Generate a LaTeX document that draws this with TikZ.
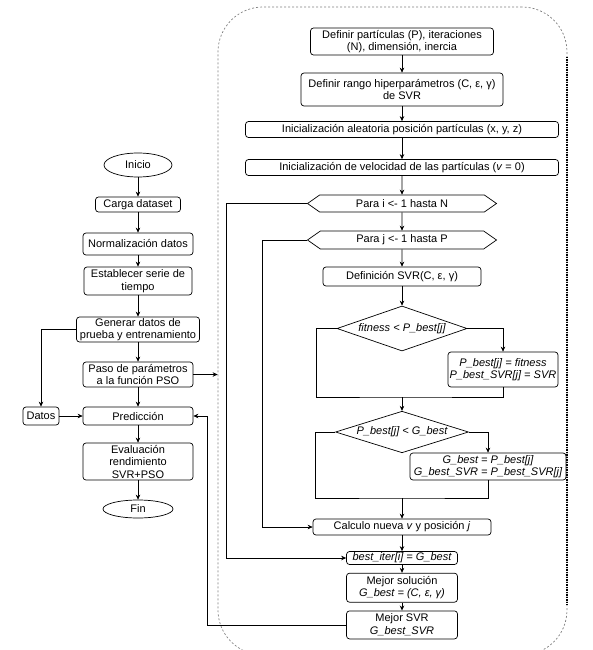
\documentclass[tikz,border=0pt]{standalone}
\usepackage{fontspec}
\setmainfont{Liberation Sans}
\usetikzlibrary{shapes.geometric, shapes.symbols, arrows.meta, positioning}

\begin{document}
\begin{tikzpicture}[x=1pt, y=1pt, line width=0.7pt, node distance=8pt,
     box/.style={rectangle, rounded corners=3pt, draw, align=center, inner sep=1pt, font=\fontsize{11}{12.5}\selectfont},
     itbox/.style={box, font=\fontsize{11}{12.5}\selectfont\itshape},
     term/.style={ellipse, draw, inner sep=1pt, font=\fontsize{11}{12.5}\selectfont},
     loop/.style={signal, signal to=east and west, signal pointer angle=70, draw, inner sep=1pt, font=\fontsize{11}{12.5}\selectfont},
     cond/.style={diamond, draw, aspect=2.9, inner sep=0pt, font=\fontsize{11}{12.5}\selectfont\itshape},
     arrow/.style={->, >={Stealth[length=5pt, width=4.5pt]}}]
     \useasboundingbox (0,0) rectangle (593,-650);
     % flujo principal
     \node (inicio) [term, minimum width=68pt, minimum height=24pt] at (138,-165) {Inicio};
     \node (carga) [box, minimum width=85pt, minimum height=15pt] at (138,-204.5) {Carga dataset};
     \node (norm) [box, minimum width=110pt, minimum height=22pt] at (138,-244) {Normalización datos};
     \node (serie) [box, minimum width=108pt, minimum height=28pt] at (138,-281) {Establecer serie de\\tiempo};
     \node (gen) [box, minimum width=123pt, minimum height=25pt] at (138,-329.5) {Generar datos de\\prueba y entrenamiento};
     \node (paso) [box, minimum width=110pt, minimum height=25pt] at (138,-374.5) {Paso de parámetros\\a la función PSO};
     \node (datos) [box, minimum width=36pt, minimum height=18pt] at (41,-416) {Datos};\node (pred) [box, minimum width=110pt, minimum height=18pt] at (138,-416) {Predicción};
     \node (eval) [box, minimum width=110pt, minimum height=37pt] at (138,-461.5) {Evaluación\\rendimiento\\SVR+PSO};
     \node (fin) [term, minimum width=70pt, minimum height=18pt] at (138,-509) {Fin};
     % bloque PSO
     \node (pso) [draw, gray, dash pattern=on 2pt off 2pt, rounded corners=45pt, minimum width=349pt, minimum height=648pt] at (392.5,-331) {};
     \draw [black, line width=2pt, dash pattern=on 1.5pt off 1pt] ([yshift=-50pt]pso.north east) -- ([yshift=50pt]pso.south east);
     \node (part) [box, minimum width=183pt, minimum height=27pt] at (402,-41.5) {Definir partículas (P), iteraciones\\(N), dimensión, inercia};
     \node (rango) [box, minimum width=202pt, minimum height=33pt] at (402,-89.5) {Definir rango hiperparámetros (C, ε, γ)\\de SVR};
     \node (posic) [box, minimum width=313pt, minimum height=16pt] at (402,-129.5) {Inicialización aleatoria posición partículas (x, y, z)};
     \node (veloc) [box, minimum width=313pt, minimum height=16pt] at (402,-167.5) {Inicialización de velocidad de las partículas (\textit{v} = 0)};
     \node (parai) [loop, minimum width=189pt, minimum height=17pt] at (402,-203.5) {Para i <- 1 hasta N};
     \node (paraj) [loop, minimum width=189pt, minimum height=18pt] at (402,-240) {Para j <- 1 hasta P};
     \node (svr) [box, minimum width=158pt, minimum height=19pt] at (402,-276.5) {Definición SVR(C, ε, γ)};
     \node (fit) [cond, minimum width=130pt, minimum height=45pt] at (402,-328.5) {fitness < P\_best[j]};
     \node (pbest) [itbox, minimum width=110pt, minimum height=35pt] at (503,-369.5) {P\_best[j] = fitness\\P\_best\_SVR[j] = SVR};
     \node (gcond) [cond, minimum width=133pt, minimum height=40pt] at (402,-432) {P\_best[j] < G\_best};
     \node (gbest) [itbox, minimum width=156pt, minimum height=27pt] at (488,-466.5) {G\_best = P\_best[j]\\G\_best\_SVR = P\_best\_SVR[j]};
     \node (calc) [box, minimum width=178pt, minimum height=16pt] at (402,-527) {Calculo nueva \textit{v} y posición \textit{j}};
     \node (iter) [itbox, minimum width=111pt, minimum height=13pt] at (402,-558) {best\_iter[i] = G\_best};
     \node (sol) [box, minimum width=111pt, minimum height=29pt, below=of iter] {Mejor solución\\\textit{G\_best = (C, ε, γ)}};
     \node (msvr) [box, minimum width=111pt, minimum height=28pt, below=of sol] {Mejor SVR\\\textit{G\_best\_SVR}};
     \coordinate (j1) at (402,-397);\coordinate (j2) at (402,-498);
     % conexiones
     \draw [arrow] (inicio) -- (carga);\draw [arrow] (carga) -- (norm);\draw [arrow] (norm) -- (serie);\draw [arrow] (serie) -- (gen);
     \draw [arrow] (gen) -- (paso);\draw [arrow] (paso) -- (pred);\draw [arrow] (pred) -- (eval);\draw [arrow] (eval) -- (fin);
     \draw [arrow] (gen.west) -| (datos.north);\draw [arrow] (datos) -- (pred);
     \draw [arrow] (paso.east) -- (paso.east -| pso.west);
     \draw [arrow] (msvr.west) -| (207,-416) -- (pred.east);
     \draw [arrow] (part) -- (rango);\draw [arrow] (rango) -- (posic);\draw [arrow] (posic) -- (veloc);\draw [arrow] (veloc) -- (parai);
     \draw [arrow] (parai) -- (paraj);\draw [arrow] (paraj) -- (svr);\draw [arrow] (svr) -- (fit);
     \draw [arrow] (fit.east) -| (pbest.north);\draw (fit.west) -- ++(-20,0) |- (j1) -| (pbest.south);\draw [arrow] (j1) -- (gcond.north);
     \draw [arrow] (gcond.east) -| (gbest.north);\draw (gcond.west) -- ++(-20,0) |- (j2) -| (gbest.south);\draw [arrow] (j2) -- (calc.north);
     \draw [arrow] (paraj.west) -- ++(-45,0) |- (calc.west);\draw [arrow] (parai.west) -- ++(-81,0) |- (iter.west);
     \draw [arrow] (calc) -- (iter);\draw [arrow] (iter) -- (sol);\draw [arrow] (sol) -- (msvr);
\end{tikzpicture}
\end{document}
